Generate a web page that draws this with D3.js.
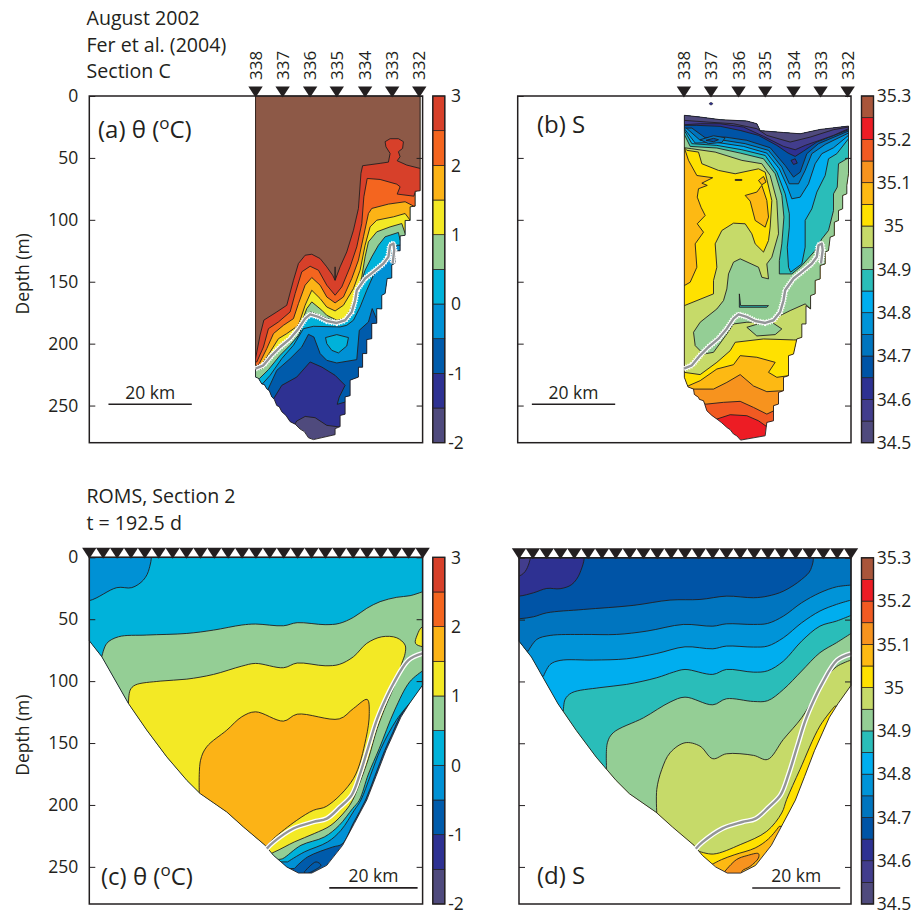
<!DOCTYPE html>
<html>
<head>
<meta charset="utf-8">
<script src="https://cdnjs.cloudflare.com/ajax/libs/d3/7.8.5/d3.min.js"></script>
<style>
  body { margin: 0; background: #fff; }
  text { font-family: "Open Sans", sans-serif; fill: #231f20; }
</style>
</head>
<body>
<svg id="chart" width="912" height="914"></svg>
<script>
'use strict';

// ---- data: everything is [km along section, depth in m] ----

var thetaEdges = [-2, -1.5, -1, -0.5, 0, 0.5, 1, 1.5, 2, 2.5, 3];
var thetaColors = ['#4f4a7d', '#2e3192', '#005bab', '#0091d5', '#00b2da', '#94ce95', '#f3e925', '#fcb316', '#f4651f', '#d7402a', '#8d5947'];
var thetaTicks = [-2, -1, 0, 1, 2, 3];

var saltEdges = [34.5, 34.55, 34.6, 34.65, 34.7, 34.75, 34.8, 34.85, 34.9, 34.95, 35, 35.05, 35.1, 35.15, 35.2, 35.25, 35.3];
var saltColors = ['#4f4a7d', '#423d8d', '#2e3192', '#0054a6', '#0075bf', '#0094d8', '#00aeef', '#2abdb9', '#94ce95', '#c6da69', '#ffe100', '#fdb913', '#f7931e', '#f15a22', '#ed1c24', '#a9553a'];
var saltTicks = [34.5, 34.6, 34.7, 34.8, 34.9, 35, 35.1, 35.2, 35.3];

var depthTicks = [0, 50, 100, 150, 200, 250];

var stationNames = ['338', '337', '336', '335', '334', '333', '332'];
var stationKm = [39.9, 46.4, 53.0, 59.4, 66.2, 72.7, 79.2];
var modelStationKm = [0, 3.33, 6.67, 10, 13.33, 16.67, 20, 23.33, 26.67, 30, 33.33, 36.67, 40, 43.33, 46.67, 50, 53.33, 56.67, 60, 63.33, 66.67, 70, 73.33, 76.67, 80];

// outline of the sampled part of section C (temperature)
var thetaObsOutline = [[39.9,0],[79.4,0],[79.4,76.5],[78.2,77],[78.2,89],[77,89.5],[77,100.5],[75.8,100.5],[75.8,112.5],[74.6,113],[74.6,125],[73.4,125],[73.4,135],[72.6,136.5],[72.6,147],[71.5,147.4],[71,159.5],[70.2,161],[70.2,172],[69,171.7],[69,183.5],[67.8,183.8],[67.8,196],[66.6,196.7],[66.6,208],[65.6,208],[65.6,219],[64.6,219],[64.6,227],[62.6,229.5],[62.6,242],[61.4,243],[61.4,257],[60.2,258],[60.2,267],[59,268.7],[59,273.5],[53.8,277.5],[52.6,276],[51.6,271],[50.6,269],[49.4,265],[48.2,263],[47.2,258],[46.2,255],[45.6,251],[45,250],[44.4,245],[43.8,243],[43.2,238],[42.6,236.5],[42,233],[41.4,232.5],[40.6,228],[39.9,227]];

// same section, salinity (starts below the surface)
var saltObsOutline = [[40,15.6],[43.8,17],[48.6,19.1],[55,20.2],[57.4,22.4],[58.2,28],[63.8,29.5],[67.8,30.5],[72.6,27],[79.4,24.3],[79.4,62.8],[79,72.2],[79,79],[78,80.3],[78,91.1],[77,92.5],[77,100.5],[76,101.9],[76,112.7],[75,114],[74.6,124.8],[73.8,126.1],[73.8,135.6],[72.6,136.9],[72.6,147.7],[71.4,149],[71.4,159.8],[70.3,161.2],[70.3,172],[69.2,169.3],[69.2,184.1],[68.2,184.1],[68.2,194.9],[67,196.2],[66.2,208.4],[65,209.7],[65,225.9],[63.8,227.2],[63.8,238],[62.6,239.4],[62.6,248.8],[61.4,250.1],[61.4,262.3],[59.8,263.6],[59.4,274.4],[53.5,277.9],[52.6,274.5],[51.8,273],[51,269.5],[50.2,267.7],[49,264],[47.8,260.9],[46.6,258],[45.4,254.2],[44.9,249],[44.6,246.1],[43.6,245],[43.4,243.4],[42.4,241],[42.2,236.7],[40.9,235],[40.6,232.6],[40,227.2]];

// model bathymetry
var modelOutline = [[0,0],[80,0],[80,103.2],[76.9,117.8],[74.8,129],[73.2,141],[71.2,156],[68.8,177],[66.6,196],[63.6,215],[60.8,232.6],[57,248.8],[53.4,255],[50.2,255],[47.4,250.1],[44.2,240.7],[42.2,232.6],[37,217.8],[33,205.7],[26.6,190.8],[23.4,180.1],[18.6,161.2],[13.8,139.6],[9.4,118.1],[3,80.3],[0,67.4]];

// the grey/white density line
var obsTrack = [[39.9,220.2],[41.8,217.5],[43.8,209.4],[45.8,202.7],[48.2,196],[50.2,187.9],[51.8,179.8],[53,176.3],[55,178.4],[57,181.7],[59.4,183.3],[61.4,181.1],[63,174.4],[63.8,165],[64.2,156.9],[66.2,147.4],[68.2,142],[70.6,135.3],[71.8,129.9],[72.2,120.5],[73,119.1],[73.2,124.5],[72.8,135.3]];
var modelTrack = [[42.6,235.3],[44.2,230],[49,219],[53.8,213.7],[57,211],[60.2,201.6],[63,192],[65,174.7],[67,153],[69,131.5],[71,115.4],[73,101.9],[76.6,83],[80,77.6]];

// layers are painted in order: [value inside the band, 'above' = everything above the contour, 'patch' = closed shape, points]
var thetaObsLayers = [
  [-1.25, 'above', [[49,266.9],[49.8,262.5],[51.8,258.8],[54.2,259.8],[57,266],[60.3,267.4]]],
  [-0.75, 'above', [[44,245.8],[46.2,233.7],[49.8,227],[53,214.8],[55.8,218.9],[59,225.6],[61.4,233.7],[60,243.1],[59.5,249],[61.4,247.2],[63,240.4]]],
  [-0.25, 'above', [[42.7,238.3],[45,221.6],[48.2,212.1],[51,202.7],[52.6,192.5],[53.9,194.6],[55.4,208],[57,213.5],[59.4,215.6],[64.2,212.9],[64.8,189.2],[67,182.5],[67.9,171.7],[68.6,177.1],[69.4,184.4]]],
  [0.25, 'above', [[41.6,232.3],[43.4,225.6],[46.2,212.1],[49,201.3],[51.4,187.9],[53.8,186],[60.2,186.5],[61.8,185.2],[63.4,181.1],[65,170.4],[66.6,156.9],[68.2,144.7],[70.6,135.3],[72.2,128.6],[73.8,120.5]]],
  [0.75, 'above', [[40.8,228.3],[43,221],[45.8,209.4],[48.2,201.3],[50.2,193.3],[51.8,181.1],[53.1,174.4],[55.8,177.9],[59.4,182.5],[61.8,181.1],[63.4,171.7],[64.6,156.9],[66.2,140.7],[67.8,129.9],[69.4,120.5],[71,113.7],[74.2,110.2],[74.6,116.4]]],
  [1.25, 'above', [[41.4,220.2],[44.2,209.4],[46.2,200],[49,193.3],[51,182.5],[52.2,171.7],[53.4,166.3],[55.8,173],[57,177.1],[59.4,181.1],[61.4,179.8],[62.6,173],[64.2,159.6],[65.4,146],[66.2,129.9],[67,117.8],[69,109.7],[72.2,105.7],[75,103],[75.8,111]]],
  [1.75, 'above', [[41,218.9],[43.4,206.7],[45.4,196],[47.4,191.9],[50.2,185.2],[51.8,169],[53.4,156.9],[55.4,163.6],[57,170.4],[59,173.6],[61,169],[63.4,155.5],[65,140.7],[66.2,120.5],[67.4,105.7],[69,100.3],[73,97.6],[75.8,94.9],[77,100.3]]],
  [2.25, 'above', [[40.6,217.5],[42.6,204],[44.2,191.9],[46.6,185.2],[49,179.8],[50.2,167.7],[51.8,152.8],[53.4,146.6],[55.4,152.8],[57,162.3],[59,167.1],[61,162.3],[63,147.4],[64.6,132.6],[65.8,113.7],[67,94.9],[67.8,90.8],[71.8,87.3],[75.8,85.4],[77.9,89]]],
  [2.75, 'above', [[40.2,214.8],[41.8,202.7],[43,187.9],[45.4,182.5],[48.2,174.4],[49.4,159.6],[51,142],[53,137.5],[55,140.7],[57,152.8],[59,160.9],[60.6,154.2],[62.6,138],[64.2,121.8],[65.4,103],[65.9,81.4],[66.7,66.6],[69.8,67.4],[73.8,71.2],[74.6,73.3],[73.9,79.2],[77.9,80.9],[78.2,77.9]]],
  [3.25, 'above', [[39.9,212],[41,193],[41.9,181],[45,174.4],[47.4,169],[49,148.8],[50.2,135.3],[51.8,128.6],[53.4,127.8],[55.4,131.3],[57,138],[58.4,144.7],[59,148.8],[59,138],[59,148.8],[60.2,138],[61.8,125.9],[63.4,108.4],[64.6,90.8],[65.2,62.5],[65.6,56.3],[69.8,54.4],[71.8,53.4],[72.2,46.4],[71.2,41],[71,36.9],[72.2,34.5],[74.2,34.5],[75.4,36.9],[75.2,42.3],[74.2,45],[74.6,49],[73.9,52.3],[76.2,55.8],[79.4,58.5]]],
  [0.25, 'patch', [[56.7,195.1],[59.4,192.7],[62.2,195.1],[61.8,201.9],[59.8,207.5],[58.2,205.4],[57,200]]]
];

var saltObsLayers = [
  [35.175, 'above', [[47,260.9],[47.8,260.9],[51,257.4],[55,258.2],[57.8,262.3],[59.8,267.1]]],
  [35.125, 'above', [[45.4,248.8],[49.4,247.4],[53.4,246.6],[56.6,251.5],[59.8,256.9],[61.5,254.2]]],
  [35.075, 'above', [[42.6,236.7],[47,236.7],[50.2,231.3],[53.4,225],[56.6,234.2],[59.8,238.8],[62.6,238.2]]],
  [35.025, 'above', [[41,234],[43.8,229.9],[47.8,220.5],[51.8,217],[53.4,209.7],[57.4,211],[61.8,215.1],[60.2,223.2],[62.2,227.2],[65,225.9]]],
  [34.975, 'above', [[40,223.2],[43.8,225],[47.8,215.1],[51,205.7],[52.2,198.9],[59,196.2],[66.2,197]]],
  // green core, wrapped around the warm salty tongue
  [34.925, 'patch', [[38,10],[84,10],[84,172],[70.3,172],[69,167.9],[65.4,173.3],[61.4,180],[59,182.7],[55,182.7],[51.8,184.1],[50.2,192.2],[47,207],[44.6,208.4],[42.6,201.6],[42.2,190.8],[43.8,182.7],[47.8,172],[49.4,165.2],[50.2,155.8],[50.6,143.7],[51.8,134.2],[53.4,131.5],[57.8,138.3],[58.6,146.4],[60.2,147.7],[59.8,135.6],[61,130.2],[62.6,111.3],[62.2,84.4],[60.6,64.2],[58.6,54.7],[53.8,52],[47.4,45.3],[41.8,42.6],[40,41.8],[38,42]]],
  [34.925, 'patch', [[55,186.8],[59,182.7],[61,182.7],[63.4,188.1],[61.8,192.7],[57.4,193.8]]],
  [34.875, 'patch', [[53.2,159.8],[53.5,169.3],[60.2,169.3],[59.8,170.6],[53.2,170.6]]],
  [35.025, 'patch', [[40,41.8],[40.6,43.9],[43.4,45.3],[44.2,54.7],[48.2,60.1],[52.2,62.8],[57.8,58.8],[59.4,61.5],[61,84.4],[60.6,105.9],[60.2,116.7],[59,126.1],[57,119.4],[56.2,111.3],[54.6,103.2],[51.8,102.7],[49,108.6],[47.4,119.4],[47.8,138.3],[47,149],[47,159.8],[40,169.3],[38,170],[38,42]]],
  [35.075, 'patch', [[40,41.8],[41,52],[43,64.2],[46.8,66],[44.2,70.4],[45.5,72.2],[43.4,74.9],[43.1,81.7],[44,89.8],[45,96.5],[43.1,103.2],[44.6,110],[42.6,119.4],[43,138.3],[41.4,150.4],[40,153.1],[38,153],[38,42]]],
  [35.075, 'patch', [[54.6,80.3],[57.4,77.6],[58.6,72.2],[59.8,84.4],[60.2,97.8],[59.4,105.9],[57,100.5],[55.8,84.9]]],
  [35.075, 'patch', [[57.8,68.2],[59,65],[59.6,69.5],[58.6,71.7]]],
  [35.075, 'patch', [[52.2,67.4],[53.8,67.4],[53.8,68.2],[52.2,68.2]]],
  [34.875, 'above', [[40,31],[41.4,40.7],[47.8,42],[53.4,46.1],[59,50.7],[61.8,62.8],[63.4,80.3],[63.9,97.8],[63.4,119.4],[62.8,132.9],[62.8,143.7],[65.8,143.7],[68.2,136.9],[71.4,124.8],[73,115.4],[74.6,108.6],[75.8,92.5],[75.8,79],[76.7,73.6],[77,54.7],[79.4,49.9]]],
  [34.825, 'above', [[40,27.8],[41.8,38.5],[47.8,39.9],[53.8,43.4],[59.4,48],[62.2,61.5],[64.2,79],[65.2,95.1],[65.2,105.9],[64.7,122.1],[65,138.3],[65.5,142.3],[68.2,135.6],[69,122.1],[69,100.5],[70.6,91.1],[71.8,77.6],[73.8,64.2],[74.6,50.7],[76.6,46.6],[79.4,34.5]]],
  [34.775, 'above', [[40,26.4],[42.6,38],[47.8,37.5],[54.2,40.7],[59.8,46.1],[62.8,58.8],[64.6,72.2],[65.8,83],[67.8,81.7],[69.8,70.9],[71.4,54.7],[73,46.6],[75.8,41.8],[79.4,31.8]]],
  [34.725, 'above', [[40.2,25.1],[43.8,35.8],[48.6,35.3],[54.6,38.5],[60.2,43.9],[63.4,57.4],[65.2,70.9],[67.4,70.9],[69,60.1],[70.6,46.6],[73.8,39.1],[79.4,29.9]]],
  [34.675, 'above', [[41.8,25.9],[45,33.7],[49.8,33.2],[55,35.8],[60.6,41.8],[64.2,56.1],[66.2,65.5],[67.8,61.5],[69.4,46.6],[72.2,38.5],[79.4,28.3]]],
  [34.725, 'patch', [[43.8,35.3],[47,32.1],[49.8,33.7],[49,37.5],[45.8,38.5]]],
  [34.675, 'patch', [[45.2,35.8],[47,34.2],[48.2,35.3],[47,36.9]]],
  [34.625, 'above', [[43,23.7],[48.6,24.5],[53.4,27.8],[57.8,31.8],[62.2,39.9],[64.9,46.1],[66.6,48.8],[68.6,44.5],[71.8,37.2],[79.4,27.2]]],
  [34.625, 'patch', [[65.6,52],[66.6,50.7],[67.1,54.2],[66.2,55.3]]],
  [34.575, 'above', [[40,23.2],[43.8,22.4],[48.6,22.4],[54.2,25.1],[59,32.6],[63.8,40.7],[66.6,43.4],[69,39.9],[75.8,31.8],[79.4,26.4]]],
  [34.525, 'above', [[40,19.7],[45.4,21],[51.8,22.4],[57.4,26.4],[59.8,31.8],[65.4,37.2],[70.2,33.2],[75.8,27.2],[79.4,25.1]]]
];
// small blob above the section outline in (b)
var saltObsFree = [[34.625, 'patch', [[45.9,6.2],[46.4,5],[46.9,6.2],[46.4,7.4]]]];

var thetaModelLayers = [
  [-0.75, 'patch', [[51.6,254.1],[54.4,246],[55.6,248.7],[54,252.8],[52,256]]],
  [-0.25, 'above', [[49.2,251.4],[52.4,242],[58.4,234],[60.7,231.5],[63.4,214.5],[66.3,196],[68.5,177],[70.9,156],[72.9,141],[74.5,129],[76.6,118.5]]],
  [0.25, 'above', [[47.6,246],[51.6,238],[57.2,229.9],[60.4,220.5],[63.6,204.3],[65.2,196],[67.5,176],[70,154.4],[73.7,131.5],[76.9,117.8]]],
  [0.75, 'above', [[45.4,244],[46.4,243.4],[50.8,232.6],[56.4,225.9],[60,216.4],[63.2,202.9],[64.8,196.2],[67,175],[69.6,154.4],[73.3,123.4],[76.9,100.6],[80,91.7]]],
  [1.25, 'patch', [[9.4,118],[9.8,107.3],[11,103.2],[17,100],[23.4,98.4],[29.8,94.6],[36.6,87.9],[39.9,85.7],[46.6,89.2],[49.9,85.4],[56.6,87.6],[60,86.5],[63.4,80.3],[66.6,69.5],[70.2,64.2],[73.8,65],[75.8,70.9],[75.8,77.6],[75,85.7],[73.4,102.4],[71.4,118],[69.1,138.3],[67,162.5],[65,181.4],[63.2,196.2],[61.6,204.3],[58,216.4],[54,223.1],[49.2,229.9],[44.4,238],[41,242],[17,180],[5,126]]],
  [1.75, 'patch', [[26.4,190.8],[26.7,163.9],[28.2,153],[33,139.6],[36.6,128.8],[39.9,124.8],[46.6,132.3],[49.9,126.7],[60,130.5],[63.4,122.1],[66.7,114.8],[67.2,126.1],[66.4,146.4],[63.4,178.7],[57,201],[53.8,204.3],[49.8,212.4],[44.2,227.2],[42.4,233.4],[38,235],[25,197]]],
  [0.25, 'above', [[3,80.3],[4.2,69.5],[7,64.2],[13.8,62.8],[23.4,61.5],[29.8,58.8],[36.6,54.7],[39.9,53.9],[46.6,55.3],[49.9,52.8],[56.6,54.4],[60,53.4],[63.4,48.5],[66.6,41.2],[69.8,35.8],[73.8,32.3],[77,31],[80,27.8]]],
  [-0.25, 'patch', [[-5,35],[0,35],[6.6,24.5],[10.2,24.5],[13,18.3],[14.4,8.9],[14.4,-5],[-5,-5]]],
  [1.25, 'patch', [[85,56],[80,56],[78.7,62.8],[78.3,69.5],[80,72.2],[85,72.2]]]
];

var saltModelLayers = [
  [35.125, 'patch', [[49.6,253.6],[52.4,244.1],[54.9,240.9],[57.7,239.3],[57.7,242.8],[55.7,249.6],[53.7,253.6],[53.7,260],[49.6,260]]],
  [35.025, 'above', [[46.4,248.2],[48.8,244.1],[52,240.1],[56.9,234.7],[60.1,227.4],[62.7,217.2]]],
  [34.975, 'above', [[43.2,237.2],[46.8,239.6],[53.3,232],[59.7,221.2],[63.3,206.4],[64.5,195.4],[67.7,171.2],[72.5,136.1],[76.1,120]]],
  [34.925, 'above', [[33.2,206.2],[33.2,187.3],[34.4,171.2],[36.4,157.7],[40,149.6],[43.6,152.3],[46.7,162.5],[50,158.5],[56.5,159.8],[59.9,163.1],[63.7,146.9],[68.1,129.4],[71.3,111.9],[73.7,98.4],[76.5,88.1],[80,82.7]]],
  [34.875, 'above', [[21.1,170.6],[21.3,149.6],[22.7,141.5],[30,129.4],[36.4,116.7],[40,112.7],[46.7,118.9],[50,114],[56.5,116.2],[59.9,115.6],[63.7,106.5],[68.1,91.6],[72.5,76.8],[76.5,68.7],[80,61.2]]],
  [34.825, 'above', [[10.7,124],[11.1,114.6],[12.7,109.2],[19.5,105],[25.9,102.4],[33.2,97],[37.2,92.5],[40,90.3],[46.7,94.3],[50,90.3],[56.5,92.5],[59.9,91.4],[63.7,83.6],[68.1,67.4],[72.5,55.3],[76.5,51.2],[80,46.6]]],
  [34.775, 'above', [[5.9,95.7],[7.5,86.3],[9.9,83],[17.9,82.7],[25.9,81.7],[33.2,77.4],[40,72],[46.7,73.6],[50,71.4],[56.5,72.2],[59.9,71.4],[63.7,64.7],[68.1,52.6],[72.5,43.1],[76.5,37.7],[80,34.2]]],
  [34.725, 'above', [[2.2,75.5],[4.3,66],[7.5,62.8],[15.5,62],[23.5,62],[30.8,59.3],[39.6,53.9],[46.7,55.3],[50,53.4],[56.5,53.9],[59.9,53.1],[63.7,47.2],[68.1,36.4],[72.5,28.3],[76.5,23.5],[80,22.1]]],
  [34.675, 'patch', [[-5,49.3],[0,49.3],[3.5,47.7],[6.7,44.5],[15.5,41.8],[27.5,38.5],[36.4,34.2],[43.6,33.7],[50,31],[56.5,32.3],[59.9,31],[63.7,27],[68.1,17.5],[70.3,9.4],[70.3,-5],[-5,-5]]],
  [34.625, 'patch', [[-5,31],[0,31],[3.5,28.3],[6.7,24.8],[9.9,25],[12.7,21.6],[14.7,12.1],[15.3,-5],[-5,-5]]],
  [34.575, 'patch', [[-5,14.8],[0,14.8],[1.8,9.4],[2.5,-5],[-5,-5]]]
];

// ---- page layout ----

var ink = '#231f20';
var svg = d3.select('#chart');

var thetaColor = d3.scaleThreshold().domain(thetaEdges.slice(1)).range(thetaColors);
var saltColor = d3.scaleThreshold().domain(saltEdges.slice(1, -1)).range(saltColors);

var line = d3.line();
var smooth = d3.line().curve(d3.curveCatmullRom.alpha(0.5));

function panel(opt) {
  var x = d3.scaleLinear().domain([0, 80]).range([opt.left, opt.right]);
  var y = d3.scaleLinear().domain([0, 280]).range([opt.top, opt.bottom]);
  var g = svg.append('g');
  var toPx = function(p) { return [x(p[0]), y(p[1])]; };
  var draw = opt.smooth ? smooth : line;

  var clipId = 'clip-' + opt.id;
  svg.append('clipPath').attr('id', clipId)
    .append('path').attr('d', line(opt.outline.map(toPx)) + 'Z');

  var inside = g.append('g').attr('clip-path', 'url(#' + clipId + ')');
  inside.append('path')
    .attr('d', line(opt.outline.map(toPx)) + 'Z')
    .attr('fill', opt.color(opt.base));

  // closes a contour around the top of the section, out past the walls
  function ring(layer) {
    var pts = layer[2];
    if (layer[1] == 'patch') return draw(pts.map(toPx)) + 'Z';
    var a = pts[0], b = pts[pts.length - 1];
    var out = [[b[0] + 20, b[1]], [b[0] + 20, -30], [a[0] - 60, -30], [a[0] - 60, a[1]]];
    return draw(pts.map(toPx)) + 'L' + out.map(toPx).join('L') + 'Z';
  }

  inside.selectAll('path.band')
    .data(opt.layers)
    .enter().append('path')
    .attr('class', 'band')
    .attr('d', ring)
    .attr('fill', function(d) { return opt.color(d[0]); })
    .attr('stroke', ink)
    .attr('stroke-width', 0.9)
    .attr('stroke-linejoin', 'round');

  // outline over the top of the fills
  g.append('path')
    .attr('d', line(opt.outline.map(toPx)) + 'Z')
    .attr('fill', 'none')
    .attr('stroke', ink)
    .attr('stroke-width', 0.9);

  (opt.free || []).forEach(function(d) {
    g.append('path')
      .attr('d', line(d[2].map(toPx)) + 'Z')
      .attr('fill', opt.color(d[0]))
      .attr('stroke', ink)
      .attr('stroke-width', 0.5);
  });

  // density line
  var track = draw(opt.track.map(toPx));
  if (opt.rough) {
    g.append('path').attr('d', track).attr('fill', 'none').attr('stroke', '#fff')
      .attr('stroke-width', 6.2).attr('stroke-dasharray', '1 1.4');
  }
  g.append('path').attr('d', track).attr('fill', 'none').attr('stroke', '#fff')
    .attr('stroke-width', opt.rough ? 4.4 : 5).attr('stroke-linejoin', 'round');
  g.append('path').attr('d', track).attr('fill', 'none').attr('stroke', '#939598')
    .attr('stroke-width', 2.4).attr('stroke-linejoin', 'round');

  // frame and ticks
  g.append('rect')
    .attr('x', opt.left).attr('y', opt.top)
    .attr('width', opt.right - opt.left).attr('height', opt.bottom - opt.top)
    .attr('fill', 'none').attr('stroke', ink).attr('stroke-width', 1.5);

  var leftAxis = d3.axisLeft(y).tickValues(depthTicks).tickSize(-6).tickPadding(11);
  if (!opt.depthLabels) leftAxis.tickFormat('');
  var la = g.append('g').attr('transform', 'translate(' + opt.left + ',0)').call(leftAxis);
  la.select('.domain').remove();
  la.selectAll('line').attr('stroke', ink);
  la.selectAll('text').style('font-size', '17.5px').attr('fill', ink);

  var ra = g.append('g').attr('transform', 'translate(' + opt.right + ',0)')
    .call(d3.axisRight(y).tickValues(depthTicks).tickSize(-6).tickFormat(''));
  ra.select('.domain').remove();
  ra.selectAll('line').attr('stroke', ink);

  if (opt.depthLabels) {
    g.append('text')
      .attr('transform', 'translate(29,' + ((opt.top + opt.bottom) / 2 + 4.5) + ') rotate(-90)')
      .attr('text-anchor', 'middle')
      .style('font-size', '17.5px')
      .text('Depth (m)');
  }

  // station triangles
  g.selectAll('path.station')
    .data(opt.stations)
    .enter().append('path')
    .attr('class', 'station')
    .attr('transform', function(d) { return 'translate(' + x(d) + ',' + (opt.top + 1.4) + ')'; })
    .attr('d', 'M-7.2,-11L7.2,-11L0,0Z')
    .attr('fill', ink);

  if (opt.stationNames) {
    g.selectAll('text.station')
      .data(opt.stationNames)
      .enter().append('text')
      .attr('class', 'station')
      .attr('transform', function(d, i) { return 'translate(' + x(opt.stations[i]) + ',80) rotate(-90)'; })
      .attr('dy', '0.36em')
      .style('font-size', '17px')
      .text(function(d) { return d; });
  }

  // scale bar
  var barLeft = x(opt.barStart), barRight = x(opt.barStart + opt.barKm);
  g.append('line')
    .attr('x1', barLeft).attr('x2', barRight)
    .attr('y1', y(opt.barDepth)).attr('y2', y(opt.barDepth))
    .attr('stroke', ink).attr('stroke-width', 1.6);
  g.append('text')
    .attr('x', (barLeft + barRight) / 2).attr('y', y(opt.barDepth) - 5.5)
    .attr('text-anchor', 'middle')
    .style('font-size', '17.5px')
    .text('20 km');

  // panel letter
  var tag = g.append('text')
    .attr('x', opt.tagX).attr('y', opt.tagY)
    .style('font-size', '24px');
  tag.append('tspan').text(opt.tag);
  if (opt.sup) {
    tag.append('tspan').attr('dy', -9).style('font-size', '17px').text('o');
    tag.append('tspan').attr('dy', 9).text('C)');
  }
}

function colorbar(left, top, bottom, edges, scale, ticks, labelX) {
  var y = d3.scaleLinear().domain([edges[0], edges[edges.length - 1]]).range([bottom, top]);
  var g = svg.append('g');
  g.selectAll('rect')
    .data(d3.pairs(edges))
    .enter().append('rect')
    .attr('x', left)
    .attr('width', 12)
    .attr('y', function(d) { return y(d[1]); })
    .attr('height', function(d) { return y(d[0]) - y(d[1]); })
    .attr('fill', function(d) { return scale((d[0] + d[1]) / 2); })
    .attr('stroke', ink)
    .attr('stroke-width', 0.7);
  g.append('rect')
    .attr('x', left).attr('y', top).attr('width', 12).attr('height', bottom - top)
    .attr('fill', 'none').attr('stroke', ink).attr('stroke-width', 1.4);

  g.selectAll('text')
    .data(ticks)
    .enter().append('text')
    .attr('x', labelX)
    .attr('y', function(d) { return y(d); })
    .attr('dy', '0.36em')
    .attr('text-anchor', 'middle')
    .style('font-size', '17.5px')
    .text(function(d) { return d; });
}

function heading(lines, x, firstY, step) {
  svg.selectAll(null)
    .data(lines)
    .enter().append('text')
    .attr('x', x)
    .attr('y', function(d, i) { return firstY + i * step; })
    .style('font-size', '19.6px')
    .text(function(d) { return d; });
}

panel({ id: 'a', left: 89.3, right: 422.6, top: 96, bottom: 442.7, outline: thetaObsOutline, layers: thetaObsLayers,
  base: -1.75, color: thetaColor, track: obsTrack, rough: true, depthLabels: true,
  stations: stationKm, stationNames: stationNames, barStart: 4.6, barKm: 20, barDepth: 249,
  tag: '(a) θ (', sup: true, tagX: 98, tagY: 138 });

panel({ id: 'b', left: 517.7, right: 851, top: 96, bottom: 442.7, outline: saltObsOutline, layers: saltObsLayers,
  base: 35.225, color: saltColor, track: obsTrack, rough: true, free: saltObsFree,
  stations: stationKm, stationNames: stationNames, barStart: 3.4, barKm: 20, barDepth: 249,
  tag: '(b) S', tagX: 537, tagY: 133 });

// the model panels are drawn on a slightly longer km axis: their 20 km bar is a little longer on paper
panel({ id: 'c', left: 89.3, right: 422.6, top: 557.3, bottom: 904, outline: modelOutline, layers: thetaModelLayers,
  base: -0.75, color: thetaColor, track: modelTrack, depthLabels: true, smooth: true,
  stations: modelStationKm, barStart: 57.6, barKm: 21.2, barDepth: 267,
  tag: '(c) θ (', sup: true, tagX: 101, tagY: 885 });

panel({ id: 'd', left: 519, right: 851, top: 557.8, bottom: 904, outline: modelOutline, layers: saltModelLayers,
  base: 35.075, color: saltColor, track: modelTrack, smooth: true,
  stations: modelStationKm, barStart: 56.2, barKm: 21.2, barDepth: 267,
  tag: '(d) S', tagX: 537, tagY: 884 });

colorbar(432.8, 96, 442.7, thetaEdges, thetaColor, thetaTicks, 456);
colorbar(861.5, 96, 442.7, saltEdges, saltColor, saltTicks, 894);
colorbar(432.8, 557.3, 904, thetaEdges, thetaColor, thetaTicks, 456);
colorbar(861.5, 557.8, 904, saltEdges, saltColor, saltTicks, 894);

heading(['August 2002', 'Fer et al. (2004)', 'Section C'], 86.5, 25, 26.7);
heading(['ROMS, Section 2', 't = 192.5 d'], 86.5, 503, 27);
</script>
</body>
</html>
